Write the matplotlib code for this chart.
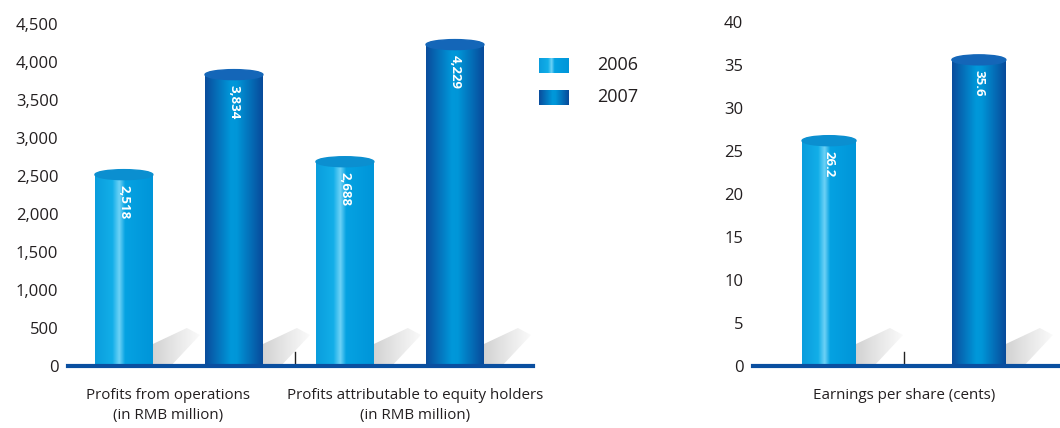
import matplotlib.pyplot as plt
import numpy as np
from matplotlib.colors import LinearSegmentedColormap
from matplotlib.patches import Ellipse, Polygon

plt.rcParams['font.family'] = ['Open Sans', 'DejaVu Sans']

# data
years = ['2006', '2007']
profit_cats = ['Profits from operations\n(in RMB million)',
               'Profits attributable to equity holders\n(in RMB million)']
profit_2006 = [2518, 2688]
profit_2007 = [3834, 4229]
profit_lbl_2006 = ['2,518', '2,688']
profit_lbl_2007 = ['3,834', '4,229']
profit_ticks = np.arange(0, 4501, 500)

eps_cats = ['Earnings per share (cents)']
eps_2006 = [26.2]
eps_2007 = [35.6]
eps_ticks = np.arange(0, 41, 5)

W, H = 1060, 428
light = LinearSegmentedColormap.from_list('light', [(0, '#0a9ddd'), (0.3, '#12aee8'), (0.42, '#6dd2f6'),
                                                    (0.52, '#05a2e2'), (1, '#0095d9')])
dark = LinearSegmentedColormap.from_list('dark', [(0, '#0a4c9c'), (0.45, '#0098da'), (0.55, '#0096d8'),
                                                  (1, '#084a9a')])
shade = LinearSegmentedColormap.from_list('shade', ['#d2d2d2', '#e8e8e8', '#fbfbfb'])
grad = np.linspace(0, 1, 256).reshape(1, -1)
text_col = '#231f20'
base_col = '#0a4fa0'


def cylinder(ax, x, val, w, cmap, top, label, ppx, ppy):
    ax.imshow(grad, cmap=cmap, extent=[x - w / 2, x + w / 2, 0, val], aspect='auto', zorder=2)
    ax.add_patch(Ellipse((x, val), w, 10 * ppy, color=top, zorder=3))
    # shadow on the floor
    x1 = x + w / 2
    pts = [(x1, 0), (x1, 22 * ppy), (x1 + 34 * ppx, 38 * ppy), (x1 + 47 * ppx, 31 * ppy), (x1 + 18 * ppx, 0)]
    poly = Polygon(pts, closed=True, facecolor='none', edgecolor='none')
    ax.add_patch(poly)
    sh = ax.imshow(grad, cmap=shade, extent=[x1, x1 + 48 * ppx, 0, 40 * ppy], aspect='auto', zorder=1)
    sh.set_clip_path(poly)
    ax.text(x, val - 10 * ppy, label, rotation=270, ha='center', va='top', color='white',
            fontweight='bold', fontsize=9.5, zorder=4)


def style(ax, ticks, ymax, xlim):
    ax.set_xlim(*xlim)
    ax.set_ylim(0, ymax)
    ax.set_yticks(ticks)
    ax.set_yticklabels([f'{t:,}' for t in ticks], fontsize=12, color=text_col)
    ax.tick_params(axis='y', length=0, pad=7)
    ax.tick_params(axis='x', length=0, pad=16)
    for s in ['left', 'right', 'top']:
        ax.spines[s].set_visible(False)
    ax.spines['bottom'].set_color(base_col)
    ax.spines['bottom'].set_linewidth(3)
    ax.spines['bottom'].set_zorder(5)


fig = plt.figure(figsize=(W / 100, H / 100), dpi=100)

# left panel
ax1 = fig.add_axes([68 / W, 62 / H, 465 / W, 342 / H])
xl1 = (-0.502, 1.602)
ppx1 = (xl1[1] - xl1[0]) / 465
ppy1 = 4500 / 342
pos = np.arange(len(profit_cats))
for i in pos:
    cylinder(ax1, i - 0.249, profit_2006[i], 0.262, light, '#0b8fd0', profit_lbl_2006[i], ppx1, ppy1)
    cylinder(ax1, i + 0.249, profit_2007[i], 0.262, dark, '#1466b8', profit_lbl_2007[i], ppx1, ppy1)
ax1.plot([0.525, 0.525], [0, 14 * ppy1], color='#222222', lw=1, zorder=4)
style(ax1, profit_ticks, 4500, xl1)
ax1.set_xticks(pos + np.array([-0.05, 0.07]))
ax1.set_xticklabels(profit_cats, fontsize=10.9, color=text_col, linespacing=1.4)

# right panel
ax2 = fig.add_axes([753 / W, 62 / H, 307 / W, 344 / H])
xl2 = (-0.683, 0.706)
ppx2 = (xl2[1] - xl2[0]) / 307
ppy2 = 40 / 344
cylinder(ax2, -0.339, eps_2006[0], 0.244, light, '#0b8fd0', f'{eps_2006[0]}', ppx2, ppy2)
cylinder(ax2, 0.339, eps_2007[0], 0.244, dark, '#1466b8', f'{eps_2007[0]}', ppx2, ppy2)
ax2.plot([0, 0], [0, 14 * ppy2], color='#222222', lw=1, zorder=4)
style(ax2, eps_ticks, 40, xl2)
ax2.set_xticks([0])
ax2.set_xticklabels(eps_cats, fontsize=10.9, color=text_col)

# legend
for k, (yr, cm) in enumerate(zip(years, [light, dark])):
    top = 58 + k * 32
    lax = fig.add_axes([539 / W, (H - top - 15) / H, 30 / W, 15 / H])
    lax.imshow(grad, cmap=cm, aspect='auto')
    lax.axis('off')
    fig.text(597 / W, (H - top - 7.5) / H, yr, fontsize=13, color=text_col, va='center', ha='left')

fig.savefig('out.png', dpi=100)
